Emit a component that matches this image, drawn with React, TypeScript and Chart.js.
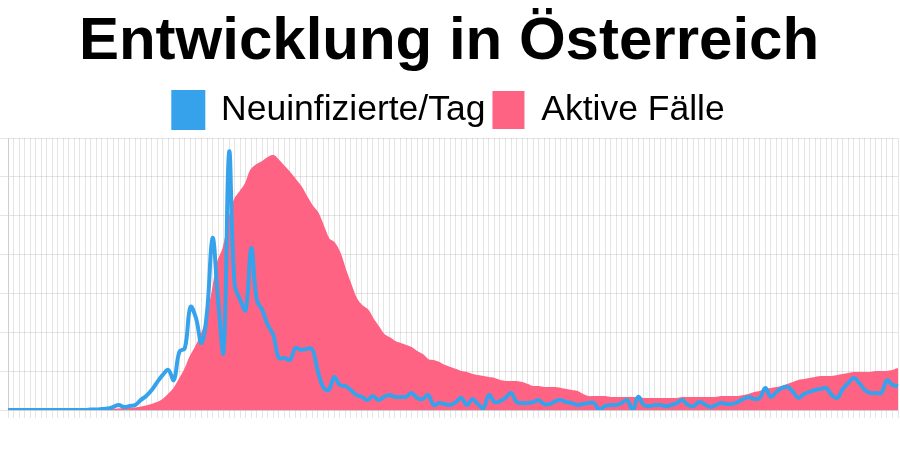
import React, { useEffect, useRef } from "react";
import { Chart, registerables } from "chart.js";

Chart.register(...registerables);

const FONT = "'Liberation Sans', Arial, Helvetica, sans-serif";

const TITLE = "Entwicklung in Österreich";
const SERIES_NAMES = ["Neuinfizierte/Tag", "Aktive Fälle"];
const START_DAY = { year: 2020, month: 1, day: 15 };

// Neuinfizierte pro Tag (daily new infections)
const newCases = [
  0, 0, 0, 0, 0, 0, 0, 0, 0, 0,
  0, 0, 0, 0, 0, 2, 2, 4, 6, 12,
  20, 12, 16, 20, 40, 57, 81, 113, 142, 162,
  121, 235, 251, 417, 372, 271, 396, 696, 445, 235,
  1043, 506, 445, 404, 655, 445, 404, 344, 303, 210,
  210, 202, 251, 243, 247, 247, 162, 93, 81, 133,
  101, 97, 81, 61, 53, 40, 57, 40, 53, 61,
  53, 53, 53, 69, 49, 44, 61, 20, 28, 24,
  20, 32, 49, 20, 44, 24, 8, 61, 32, 36,
  49, 69, 32, 28, 28, 32, 40, 24, 24, 36,
  40, 32, 28, 20, 24, 28, 28, 0, 16, 20,
  20, 28, 40, 0, 53, 20, 16, 20, 20, 16,
  20, 28, 40, 20, 16, 32, 24, 12, 20, 28,
  24, 24, 32, 44, 53, 44, 49, 89, 53, 73,
  89, 93, 73, 49, 65, 73, 81, 85, 89, 61,
  49, 85, 109, 129, 109, 81, 69, 69, 69, 121,
  101, 97,
];

// Aktive Fälle (active cases)
const activeCases = [
  0, 0, 0, 0, 0, 0, 0, 0, 0, 0,
  0, 0, 0, 0, 0, 0, 0, 0, 8, 12,
  19, 31, 39, 58, 97, 135, 193, 270, 386, 579,
  811, 1158, 1544, 2046, 2432, 2895, 3513, 4555, 5713, 6253,
  7334, 8106, 8415, 8724, 9264, 9457, 9573, 9727, 9804, 9611,
  9380, 9148, 8878, 8608, 8222, 7874, 7604, 7102, 6601, 6446,
  6060, 5404, 4825, 4285, 4014, 3860, 3513, 3204, 2895, 2779,
  2625, 2548, 2470, 2393, 2239, 2123, 1930, 1891, 1814, 1698,
  1621, 1544, 1467, 1428, 1351, 1312, 1274, 1235, 1197, 1119,
  1081, 1081, 1081, 1042, 965, 888, 888, 849, 849, 849,
  811, 772, 733, 695, 579, 502, 502, 502, 502, 463,
  463, 463, 463, 463, 463, 425, 425, 425, 425, 425,
  425, 425, 463, 463, 463, 463, 463, 463, 463, 502,
  502, 502, 502, 540, 579, 656, 695, 772, 811, 849,
  888, 965, 1042, 1119, 1158, 1197, 1235, 1274, 1274, 1274,
  1312, 1351, 1390, 1428, 1428, 1428, 1428, 1467, 1467, 1467,
  1505, 1583,
];

// Category labels: one per day
const dayLabels: string[] = newCases.map((_, i) => {
  const d = new Date(START_DAY.year, START_DAY.month, START_DAY.day + i);
  const dd = String(d.getDate()).padStart(2, "0");
  const mm = String(d.getMonth() + 1).padStart(2, "0");
  return `${dd}.${mm}.`;
});

const BLUE = "rgb(54, 162, 235)";
const PINK = "rgb(255, 99, 132)";
const GRID = "rgba(0, 0, 0, 0.1)";

export default function App() {
  const canvasRef = useRef<HTMLCanvasElement | null>(null);

  useEffect(() => {
    if (!canvasRef.current) return;
    const chart = new Chart(canvasRef.current, {
      type: "line",
      data: {
        labels: dayLabels,
        datasets: [
          {
            label: SERIES_NAMES[0],
            data: newCases,
            yAxisID: "y1",
            borderColor: BLUE,
            backgroundColor: BLUE,
            borderWidth: 4,
            pointRadius: 0,
            tension: 0.4,
            fill: false,
          },
          {
            label: SERIES_NAMES[1],
            data: activeCases,
            yAxisID: "y",
            borderColor: PINK,
            backgroundColor: PINK,
            borderWidth: 2,
            pointRadius: 0,
            tension: 0.4,
            fill: "origin",
          },
        ],
      },
      options: {
        responsive: true,
        maintainAspectRatio: false,
        animation: false,
        layout: { padding: { left: 0, right: 2, top: 0, bottom: 32 } },
        plugins: {
          title: {
            display: true,
            text: TITLE,
            color: "#000",
            font: { family: FONT, size: 60, weight: "bold", lineHeight: 1.2 },
            padding: { top: 6, bottom: 6 },
          },
          legend: {
            labels: {
              color: "#000",
              font: { family: FONT, size: 35.5 },
              boxWidth: 30,
              boxHeight: 36,
              padding: 8,
            },
          },
          tooltip: { enabled: false },
        },
        scales: {
          x: {
            ticks: { display: false },
            grid: { color: GRID },
          },
          y: {
            position: "left",
            min: 0,
            max: 10500,
            ticks: { display: false, stepSize: 1500 },
            grid: { color: GRID },
          },
          y1: {
            display: false,
            position: "right",
            min: 0,
            max: 1100,
          },
        },
      },
    });
    return () => chart.destroy();
  }, []);

  return (
    <div style={{ position: "absolute", left: 0, top: 0, width: 900, height: 450, background: "#fff" }}>
      <canvas ref={canvasRef} />
    </div>
  );
}
